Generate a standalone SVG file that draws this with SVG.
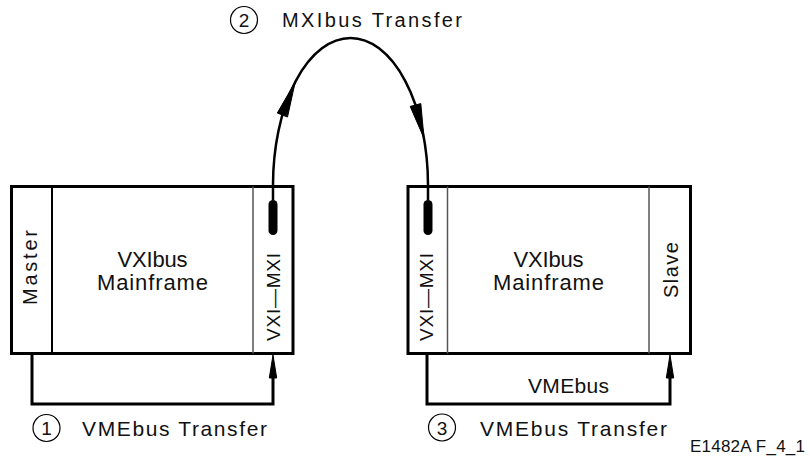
<svg xmlns="http://www.w3.org/2000/svg" width="810" height="457" viewBox="0 0 810 457">
<style>
.box{fill:#fff;stroke:#000;stroke-width:3}
.div1{stroke:#000;stroke-width:2}
.div2{stroke:#555;stroke-width:1.5}
.t{font-family:"Liberation Sans",Arial,sans-serif;fill:#111}
.wire{fill:none;stroke:#000;stroke-width:3}
.arc{fill:none;stroke:#000;stroke-width:2.5}
.head{fill:#000;stroke:#000;stroke-width:1}
.pill{fill:#000}
.circ{fill:none;stroke:#000;stroke-width:1.2}
</style>
<rect width="810" height="457" fill="#fff"/>

<g id="left-mainframe">
  <rect class="box" x="11.5" y="186.5" width="281.5" height="167"/>
  <line class="div1" x1="52" y1="186.5" x2="52" y2="353.5"/>
  <line class="div2" x1="253" y1="186.5" x2="253" y2="353.5"/>
  <text class="t" font-size="20" text-anchor="middle" textLength="75" lengthAdjust="spacing" transform="translate(37,267.5) rotate(-90)">Master</text>
  <text class="t" font-size="22" text-anchor="middle" x="152.5" y="267" textLength="70" lengthAdjust="spacing">VXIbus</text>
  <text class="t" font-size="22" text-anchor="middle" x="152.5" y="290" textLength="111" lengthAdjust="spacing">Mainframe</text>
  <text class="t" font-size="19" text-anchor="middle" textLength="88" lengthAdjust="spacing" transform="translate(279.5,297) rotate(-90)">VXI—MXI</text>
  <rect class="pill" x="268.5" y="200" width="9" height="35" rx="4.5"/>
</g>

<g id="right-mainframe">
  <rect class="box" x="408" y="186.5" width="282.5" height="167"/>
  <line class="div2" x1="447.5" y1="186.5" x2="447.5" y2="353.5"/>
  <line class="div2" x1="649" y1="186.5" x2="649" y2="353.5"/>
  <text class="t" font-size="19" text-anchor="middle" textLength="88" lengthAdjust="spacing" transform="translate(433,297) rotate(-90)">VXI—MXI</text>
  <text class="t" font-size="22" text-anchor="middle" x="548.5" y="267" textLength="70" lengthAdjust="spacing">VXIbus</text>
  <text class="t" font-size="22" text-anchor="middle" x="548.5" y="290" textLength="111" lengthAdjust="spacing">Mainframe</text>
  <text class="t" font-size="20" text-anchor="middle" textLength="56" lengthAdjust="spacing" transform="translate(677.5,270) rotate(-90)">Slave</text>
  <rect class="pill" x="423.5" y="200" width="9" height="35" rx="4.5"/>
</g>

<g id="connectors">
  <path class="arc" d="M273,200 L273,185 A77.5,147 0 0 1 428,185 L428,200"/>
  <polygon class="head" points="295.2,82 287.5,117 277.3,113"/>
  <polygon class="head" points="424,138.3 420.8,103.6 410.2,106.4"/>
  <polyline class="wire" points="32,355 32,404 273,404 273,372"/>
  <polygon class="head" points="273,355 269.3,378 276.7,378"/>
  <polyline class="wire" points="427,355 427,404 670,404 670,372"/>
  <polygon class="head" points="670,355 666.3,378 673.7,378"/>
</g>

<g id="label-2">
  <circle class="circ" cx="244" cy="20" r="13.5"/>
  <text class="t" font-size="19" text-anchor="middle" x="244" y="27">2</text>
  <text class="t" font-size="20" x="282" y="27" textLength="180" lengthAdjust="spacing">MXIbus Transfer</text>
</g>

<g id="label-1">
  <circle class="circ" cx="46.5" cy="428" r="13.5"/>
  <text class="t" font-size="19" text-anchor="middle" x="46.5" y="435">1</text>
  <text class="t" font-size="21" x="82" y="436" textLength="185" lengthAdjust="spacing">VMEbus Transfer</text>
</g>

<g id="label-3">
  <circle class="circ" cx="442" cy="427.5" r="13.5"/>
  <text class="t" font-size="19" text-anchor="middle" x="442" y="434.5">3</text>
  <text class="t" font-size="21" x="480" y="436" textLength="187" lengthAdjust="spacing">VMEbus Transfer</text>
</g>

<text class="t" font-size="21" x="528" y="393" textLength="81" lengthAdjust="spacing">VMEbus</text>
<text class="t" font-size="17" x="690" y="451.5" textLength="115" lengthAdjust="spacing">E1482A F_4_1</text>
</svg>
